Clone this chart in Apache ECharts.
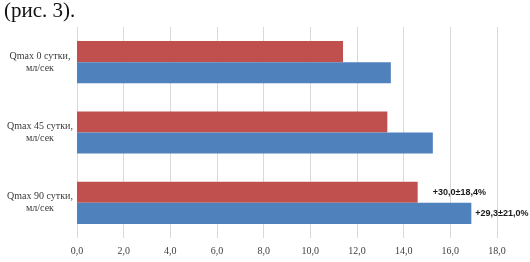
<!DOCTYPE html>
<html><head><meta charset="utf-8">
<script src="https://cdn.jsdelivr.net/npm/echarts@6/dist/echarts.min.js"></script>
<style>html,body{margin:0;padding:0;background:#fff}#c{width:530px;height:262px}</style>
</head><body><div id="c"></div>
<script>
const categories = ['Qmax 0 сутки,\nмл/сек', 'Qmax 45 сутки,\nмл/сек', 'Qmax 90 сутки,\nмл/сек'];
const redValues = [11.4, 13.3, 14.6];
const blueValues = [13.45, 15.25, 16.9];
const redLabels = ['', '', '+30,0±18,4%'];
const blueLabels = ['', '', '+29,3±21,0%'];
const titleText = '(рис. 3).';

function mk(vals, labs) {
  return vals.map((v, i) => ({
    value: v,
    label: { show: labs[i] !== '', formatter: labs[i] }
  }));
}
const chart = echarts.init(document.getElementById('c'));
chart.setOption({
  animation: false,
  title: { text: titleText, left: -1, top: -4,
    textStyle: { fontFamily: 'Liberation Serif', fontSize: 21, fontWeight: 'normal', color: '#111' } },
  grid: { left: 77, right: 33, top: 27, bottom: 24 },
  xAxis: {
    type: 'value', min: 0, max: 18, interval: 2,
    axisLine: { show: false }, axisTick: { show: false },
    splitLine: { lineStyle: { color: '#d9d9d9', width: 1 } },
    axisLabel: { margin: 8, color: '#404040', fontFamily: 'Liberation Serif', fontSize: 10,
      formatter: v => v.toFixed(1).replace('.', ',') }
  },
  yAxis: {
    type: 'category', data: categories, inverse: true,
    axisLine: { show: false }, axisTick: { show: false },
    axisLabel: { align: 'center', margin: 37, color: '#3a3a3a', fontFamily: 'Liberation Serif', fontSize: 10,
      lineHeight: 12, padding: [6, 0, 0, 0] }
  },
  series: [
    { type: 'bar', data: mk(redValues, redLabels), barGap: '0%', barCategoryGap: '40%',
      itemStyle: { color: '#c0504d' },
      label: { position: 'right', distance: 15, color: '#1a1a1a', fontFamily: 'Liberation Sans', fontWeight: 'bold', fontSize: 9 } },
    { type: 'bar', data: mk(blueValues, blueLabels), barGap: '0%', barCategoryGap: '40%',
      itemStyle: { color: '#4f81bd' },
      label: { position: 'right', distance: 4, color: '#1a1a1a', fontFamily: 'Liberation Sans', fontWeight: 'bold', fontSize: 9 } }
  ]
});
</script></body></html>
